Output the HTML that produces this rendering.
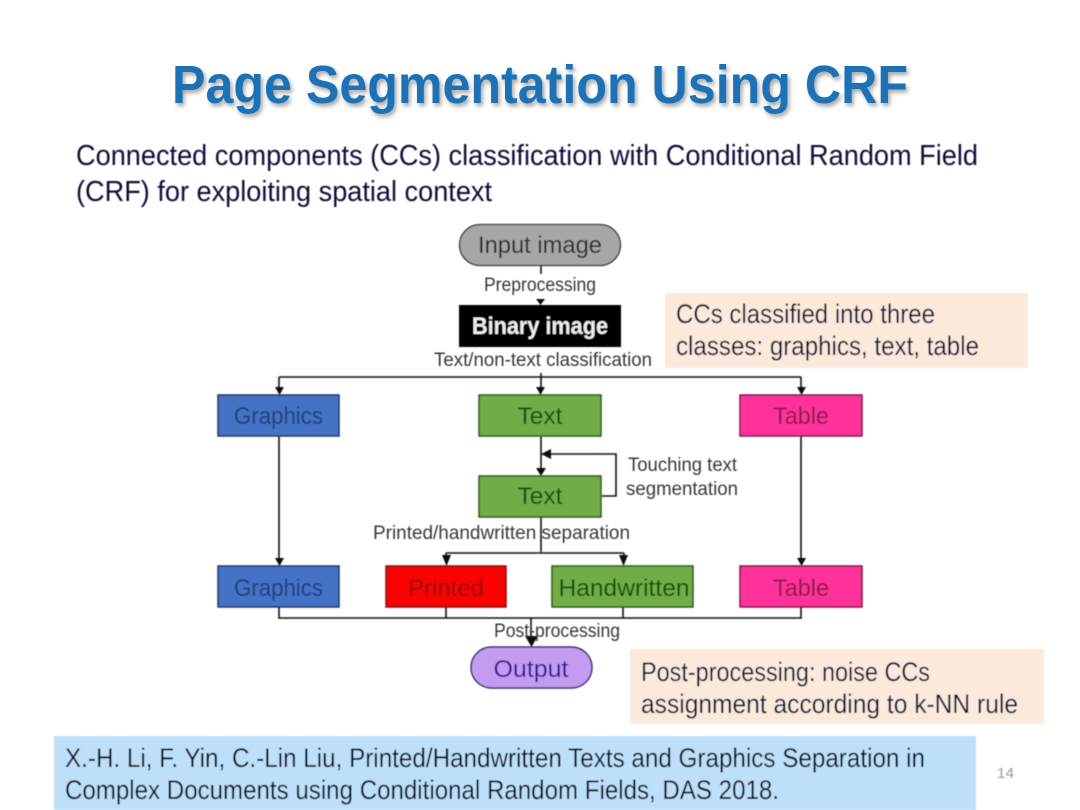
<!DOCTYPE html>
<html><head><meta charset="utf-8"><style>
html,body{margin:0;padding:0;background:#fff}
svg{display:block}
text{font-family:"Liberation Sans",sans-serif}
</style></head><body>
<svg width="1080" height="810" viewBox="0 0 1080 810" xmlns="http://www.w3.org/2000/svg">
<defs>
<filter id="s" x="-5%" y="-20%" width="110%" height="140%"><feDropShadow dx="2" dy="3" stdDeviation="2" flood-color="#000" flood-opacity=".35"/></filter>
<filter id="b"><feGaussianBlur stdDeviation="0.4"/></filter>
</defs>
<rect width="1080" height="810" fill="#fff"/>
<text x="172" y="103" font-size="54" font-weight="bold" fill="#1b72b4" filter="url(#s)" textLength="736" lengthAdjust="spacingAndGlyphs">Page Segmentation Using CRF</text>
<g filter="url(#b)">
<text x="76" y="165" font-size="29" fill="#0a0a3a" textLength="902" lengthAdjust="spacingAndGlyphs">Connected components (CCs) classification with Conditional Random Field</text>
<text x="76" y="201" font-size="29" fill="#0a0a3a" textLength="416" lengthAdjust="spacingAndGlyphs">(CRF) for exploiting spatial context</text>

<rect x="665" y="293" width="363" height="75" fill="#fbe9dc"/>
<text x="676" y="323" font-size="27" fill="#0a0a30" textLength="259" lengthAdjust="spacingAndGlyphs">CCs classified into three</text>
<text x="676" y="355" font-size="27" fill="#0a0a30" textLength="303" lengthAdjust="spacingAndGlyphs">classes: graphics, text, table</text>

<rect x="630" y="649" width="414" height="75" fill="#fbe9dc"/>
<text x="641" y="681" font-size="27" fill="#0a0a30" textLength="289" lengthAdjust="spacingAndGlyphs">Post-processing: noise CCs</text>
<text x="641" y="713" font-size="27" fill="#0a0a30" textLength="377" lengthAdjust="spacingAndGlyphs">assignment according to k-NN rule</text>

<rect x="54" y="736" width="922" height="74" fill="#bde0f8"/>
<text x="65" y="767" font-size="27" fill="#050520" textLength="860" lengthAdjust="spacingAndGlyphs">X.-H. Li, F. Yin, C.-Lin Liu, Printed/Handwritten Texts and Graphics Separation in</text>
<text x="65" y="799" font-size="27" fill="#050520" textLength="714" lengthAdjust="spacingAndGlyphs">Complex Documents using Conditional Random Fields, DAS 2018.</text>
<text x="997" y="778" font-size="15" fill="#9a9a9a" textLength="17" lengthAdjust="spacingAndGlyphs">14</text>

<!-- connectors -->
<g stroke="#111" stroke-width="1.600" fill="none">
<path d="M541 266V274"/>
<path d="M279 377H801"/>
<path d="M279 377V390M541 373V390M801 377V390"/>
<path d="M279 436V560M801 436V560"/>
<path d="M541 436V471"/>
<path d="M602 496H616V454H548"/>
<path d="M541 517V552"/>
<path d="M446 553H624M446 553V562M624 553V562"/>
<path d="M279 607V618H801V607M446 607V618M623 607V618"/>
<path d="M531 618V640"/>
</g>
<g fill="#111">
<path d="M536 299H545L540.500 305Z"/>
<path d="M275 387H284L279.500 395Z"/>
<path d="M536 387H545L540.500 395Z"/>
<path d="M797 387H806L801.500 395Z"/>
<path d="M536 468H546L541 476Z"/>
<path d="M541 454L551 449V459Z"/>
<path d="M275 558H284L279.500 566Z"/>
<path d="M797 558H806L801.500 566Z"/>
<path d="M442 555H451L446.500 566Z"/>
<path d="M619 555H628L623.500 566Z"/>
<path d="M525 636H538L531.500 647Z"/>
</g>

<!-- nodes -->
<rect x="459.500" y="224.500" width="161" height="41" rx="20.500" fill="#a6a6a6" stroke="#333" stroke-width="1.300"/>
<text x="540" y="253" font-size="24" fill="#2a2a2a" text-anchor="middle" textLength="124" lengthAdjust="spacingAndGlyphs">Input image</text>
<rect x="459" y="305" width="162" height="42" fill="#000"/>
<text x="540" y="334" font-size="24" font-weight="bold" fill="#eee" text-anchor="middle" textLength="136" lengthAdjust="spacingAndGlyphs">Binary image</text>

<rect x="218" y="395" width="121" height="41" fill="#4472c4" stroke="#1f3864" stroke-width="1.500"/>
<text x="278.500" y="424" font-size="24" fill="#1f3f80" text-anchor="middle" textLength="89" lengthAdjust="spacingAndGlyphs">Graphics</text>
<rect x="479" y="395" width="122" height="41" fill="#70ad47" stroke="#2f5a1c" stroke-width="1.500"/>
<text x="540" y="424" font-size="24" fill="#174d0a" text-anchor="middle" textLength="45" lengthAdjust="spacingAndGlyphs">Text</text>
<rect x="740" y="395" width="122" height="41" fill="#ff3399" stroke="#7a1a4a" stroke-width="1.500"/>
<text x="801" y="424" font-size="24" fill="#8a1a55" text-anchor="middle" textLength="56" lengthAdjust="spacingAndGlyphs">Table</text>

<rect x="479" y="476" width="122" height="41" fill="#70ad47" stroke="#2f5a1c" stroke-width="1.500"/>
<text x="540" y="504" font-size="24" fill="#174d0a" text-anchor="middle" textLength="45" lengthAdjust="spacingAndGlyphs">Text</text>

<rect x="218" y="566" width="121" height="41" fill="#4472c4" stroke="#1f3864" stroke-width="1.500"/>
<text x="278.500" y="596" font-size="24" fill="#1f3f80" text-anchor="middle" textLength="89" lengthAdjust="spacingAndGlyphs">Graphics</text>
<rect x="386" y="566" width="120" height="41" fill="#ff0000" stroke="#7a1010" stroke-width="1.500"/>
<text x="446" y="596" font-size="24" fill="#900c0c" text-anchor="middle" textLength="76" lengthAdjust="spacingAndGlyphs">Printed</text>
<rect x="552" y="566" width="141" height="41" fill="#70ad47" stroke="#2f5a1c" stroke-width="1.500"/>
<text x="624" y="596" font-size="24" fill="#174d0a" text-anchor="middle" textLength="131" lengthAdjust="spacingAndGlyphs">Handwritten</text>
<rect x="740" y="566" width="122" height="41" fill="#ff3399" stroke="#7a1a4a" stroke-width="1.500"/>
<text x="801" y="596" font-size="24" fill="#8a1a55" text-anchor="middle" textLength="56" lengthAdjust="spacingAndGlyphs">Table</text>

<rect x="471" y="647" width="121" height="41" rx="20.500" fill="#c39bf0" stroke="#3c2a70" stroke-width="1.500"/>
<text x="531" y="677" font-size="24" fill="#30148a" text-anchor="middle" textLength="75" lengthAdjust="spacingAndGlyphs">Output</text>

<!-- labels -->
<g font-size="19" fill="#383838">
<text x="484" y="291" textLength="112" lengthAdjust="spacingAndGlyphs">Preprocessing</text>
<text x="434" y="366" textLength="218" lengthAdjust="spacingAndGlyphs">Text/non-text classification</text>
<text x="628" y="471" textLength="109" lengthAdjust="spacingAndGlyphs">Touching text</text>
<text x="626" y="495" textLength="112" lengthAdjust="spacingAndGlyphs">segmentation</text>
<text x="373" y="539" textLength="257" lengthAdjust="spacingAndGlyphs">Printed/handwritten separation</text>
<text x="494" y="637" textLength="126" lengthAdjust="spacingAndGlyphs">Post-processing</text>
</g>
</g>
</svg>
</body></html>
